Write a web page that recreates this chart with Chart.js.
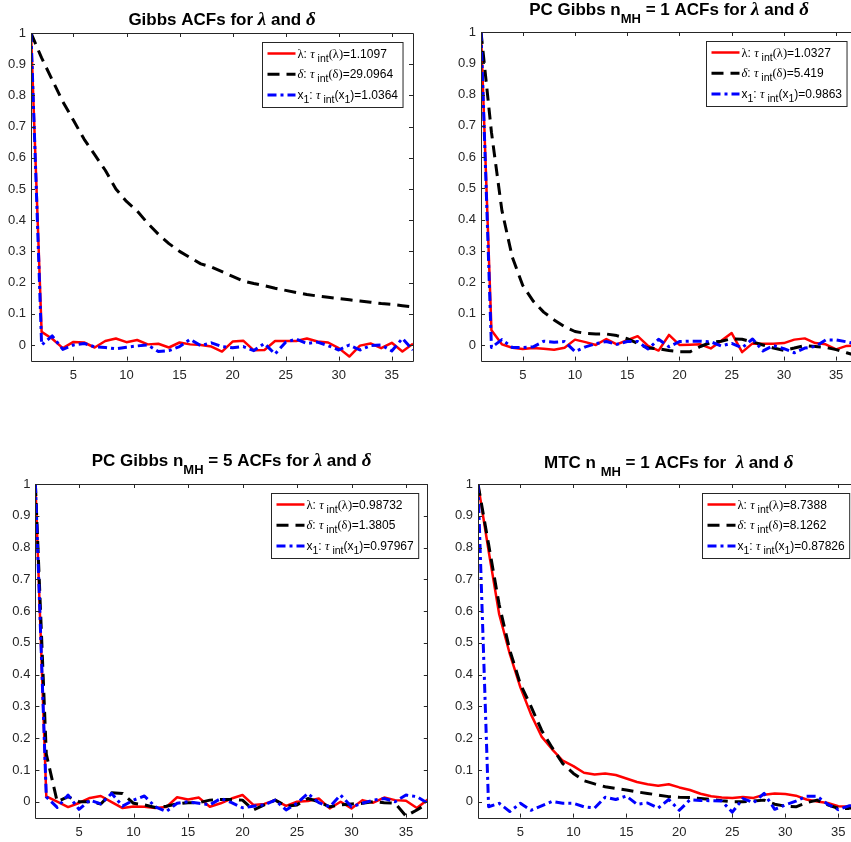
<!DOCTYPE html>
<html>
<head>
<meta charset="utf-8">
<script src="https://cdn.jsdelivr.net/npm/chart.js@4.4.0/dist/chart.umd.min.js"></script>
<style>
  html, body { margin: 0; padding: 0; background: #fff; overflow: hidden; width: 851px; height: 842px; }
  .panel { position: absolute; }
</style>
</head>
<body>
<div class="panel" style="left:0px;top:0px"><canvas id="gibbs" width="430" height="420"></canvas></div>
<div class="panel" style="left:430px;top:0px"><canvas id="pc1" width="440" height="420"></canvas></div>
<div class="panel" style="left:0px;top:420px"><canvas id="pc5" width="430" height="422"></canvas></div>
<div class="panel" style="left:430px;top:420px"><canvas id="mtc" width="440" height="422"></canvas></div>
<script>
// lags on the x axis
const lags = [1,2,3,4,5,6,7,8,9,10,11,12,13,14,15,16,17,18,19,20,21,22,23,24,25,26,27,28,29,30,31,32,33,34,35,36,37];
const xTicks = [5,10,15,20,25,30,35];
const xTickLabels = ['5','10','15','20','25','30','35'];
const yTicks = [0,0.1,0.2,0.3,0.4,0.5,0.6,0.7,0.8,0.9,1];
const yTickLabels = ['0','0.1','0.2','0.3','0.4','0.5','0.6','0.7','0.8','0.9','1'];

// Gibbs
const gibbsLambda = [1.0,0.042,0.02,-0.01,0.01,0.008,-0.008,0.013,0.021,0.009,0.016,0.002,0.004,-0.008,0.008,0.002,0.0,-0.005,-0.021,0.011,0.014,-0.017,-0.016,0.013,0.013,0.013,0.021,0.011,0.008,-0.01,-0.037,-0.002,0.005,-0.01,0.007,-0.021,0.004];
const gibbsDelta = [1.0,0.92,0.85,0.78,0.72,0.66,0.61,0.56,0.50,0.46,0.43,0.39,0.355,0.325,0.30,0.28,0.26,0.25,0.235,0.22,0.205,0.197,0.19,0.182,0.175,0.168,0.162,0.157,0.153,0.149,0.145,0.141,0.137,0.133,0.13,0.126,0.122];
const gibbsX1 = [1.0,0.0,0.029,-0.014,0.0,0.005,-0.006,-0.008,-0.012,-0.007,-0.003,0.0,-0.021,-0.018,-0.005,0.018,-0.002,0.007,-0.005,-0.009,-0.005,-0.018,0.005,-0.029,0.009,0.019,0.005,0.009,-0.002,-0.016,0.0,-0.016,-0.002,0.0,-0.019,0.021,-0.016];
const gibbsTau = ['1.1097','29.0964','1.0364'];

// PC Gibbs nMH = 1
const pc1Lambda = [1.0,0.047,0.002,-0.009,-0.013,-0.01,-0.012,-0.015,-0.009,0.017,0.009,0.0,0.019,0.002,0.015,0.028,-0.003,-0.018,0.032,0.0,0.001,0.002,-0.011,0.013,0.038,-0.023,0.005,0.004,0.004,0.006,0.017,0.021,0.006,0.002,-0.014,-0.003,-0.002];
const pc1Delta = [1.0,0.68,0.43,0.28,0.19,0.14,0.105,0.08,0.058,0.043,0.037,0.035,0.035,0.03,0.02,0.005,-0.01,-0.012,-0.018,-0.022,-0.022,-0.005,0.008,0.012,0.02,0.018,0.01,0.0,-0.01,-0.017,-0.01,-0.002,-0.005,-0.008,-0.015,-0.025,-0.035];
const pc1X1 = [1.0,-0.008,0.017,-0.008,-0.008,-0.006,0.012,0.009,0.011,-0.021,-0.006,0.004,0.011,0.002,0.011,0.011,-0.013,0.018,-0.006,0.011,0.012,0.012,0.01,-0.003,0.005,-0.009,0.019,-0.019,-0.002,-0.012,-0.025,-0.01,-0.005,0.016,0.016,0.01,0.003];
const pc1Tau = ['1.0327','5.419','0.9863'];

// PC Gibbs nMH = 5
const pc5Lambda = [1.0,0.017,0.0,-0.017,-0.004,0.012,0.018,-0.001,-0.02,-0.015,-0.016,-0.02,-0.017,0.014,0.007,0.013,-0.016,-0.005,0.01,0.021,-0.01,-0.007,0.005,-0.013,0.0,0.002,0.01,-0.021,0.0,-0.021,0.005,-0.003,0.013,0.005,0.003,-0.02,0.007];
const pc5Delta = [1.0,0.15,0.0,0.016,0.0,0.0,-0.007,0.028,0.026,-0.005,-0.01,-0.018,-0.014,-0.007,-0.003,-0.003,0.005,0.007,0.007,0.005,-0.026,-0.01,0.005,-0.014,-0.01,0.01,0.0,-0.016,-0.01,-0.007,-0.005,0.0,-0.003,-0.005,-0.045,-0.026,-0.005];
const pc5X1 = [1.0,0.015,-0.018,0.021,-0.024,0.005,-0.007,0.026,-0.014,0.005,0.018,-0.016,-0.031,-0.005,0.0,-0.005,-0.01,0.01,-0.003,-0.019,-0.014,-0.01,0.005,-0.026,-0.005,0.026,-0.003,-0.016,0.021,-0.016,-0.005,0.005,0.01,0.0,0.021,0.016,-0.005];
const pc5Tau = ['0.98732','1.3805','0.97967'];

// MTC nMH = 1
const mtcLambda = [1.0,0.79,0.59,0.465,0.36,0.275,0.205,0.165,0.129,0.112,0.091,0.086,0.089,0.084,0.073,0.062,0.055,0.05,0.055,0.045,0.037,0.025,0.017,0.013,0.012,0.015,0.012,0.022,0.026,0.024,0.019,0.007,0.001,-0.004,-0.014,-0.015,-0.01];
const mtcDelta = [1.0,0.81,0.62,0.477,0.37,0.30,0.225,0.17,0.12,0.089,0.066,0.056,0.047,0.042,0.037,0.031,0.026,0.021,0.016,0.014,0.013,0.01,0.007,0.003,0.0,0.0,0.002,0.005,-0.008,-0.014,-0.016,-0.003,0.005,-0.01,-0.021,-0.021,-0.016];
const mtcX1 = [1.0,-0.016,-0.005,-0.031,-0.005,-0.027,-0.013,0.001,-0.005,-0.005,-0.016,-0.02,0.014,0.007,0.018,-0.008,-0.004,-0.02,0.007,-0.027,0.006,0.004,0.003,0.002,-0.033,0.01,-0.003,0.026,-0.024,-0.01,0.002,0.017,0.017,-0.008,-0.025,-0.013,-0.013];
const mtcTau = ['8.7388','8.1262','0.87826'];

const SANS = '"Liberation Sans", Arial, Helvetica, sans-serif';
const SERIF = '"Liberation Serif", "Times New Roman", serif';
const AXIS_COLOR = '#262626';

// title fonts
const tBold = 'bold 17px ' + SANS;
const tGreek = 'bold italic 19px ' + SERIF;
const tSub = 'bold 13px ' + SANS;
// legend fonts
const lText = '12px ' + SANS;
const lGreek = '12.5px ' + SERIF;
const lGreekIt = 'italic 12.5px ' + SERIF;
const lSub = '10.5px ' + SANS;

function toPoints(vals) {
    return lags.map((l, i) => ({ x: l, y: vals[i] }));
}

// draws text made of several pieces with their own fonts / offsets
function drawRich(ctx, parts, x, y, align) {
    let w = measureRich(ctx, parts);
    let cx = align === 'center' ? x - w / 2 : x;
    parts.forEach(p => {
        ctx.font = p[1];
        ctx.fillText(p[0], cx, y + (p[2] || 0));
        cx += ctx.measureText(p[0]).width;
    });
    return w;
}

function measureRich(ctx, parts) {
    let w = 0;
    parts.forEach(p => { ctx.font = p[1]; w += ctx.measureText(p[0]).width; });
    return w;
}

function legendRows(tau) {
    return [
        [['λ', lGreek], [': ', lText], ['τ', lGreekIt], [' int', lSub, 4], ['(λ)', lGreek], ['=' + tau[0], lText]],
        [['δ', lGreekIt], [': ', lText], ['τ', lGreekIt], [' int', lSub, 4], ['(δ)', lGreek], ['=' + tau[1], lText]],
        [['x', lText], ['1', lSub, 4], [': ', lText], ['τ', lGreekIt], [' int', lSub, 4], ['(x', lText], ['1', lSub, 4], [')=' + tau[2], lText]]
    ];
}

// MATLAB-like box, inner ticks, title and legend
const matlabAxes = {
    id: 'matlabAxes',
    afterDraw(chart, args, opts) {
        const ctx = chart.ctx;
        const a = chart.chartArea;
        const xs = chart.scales.x, ys = chart.scales.y;
        ctx.save();
        ctx.strokeStyle = AXIS_COLOR;
        ctx.lineWidth = 1;
        ctx.beginPath();
        ctx.rect(Math.round(a.left) + 0.5, Math.round(a.top) + 0.5, Math.round(a.right - a.left), Math.round(a.bottom - a.top));
        xTicks.forEach(v => {
            const px = Math.round(xs.getPixelForValue(v)) + 0.5;
            ctx.moveTo(px, a.bottom); ctx.lineTo(px, a.bottom - 4);
            ctx.moveTo(px, a.top); ctx.lineTo(px, a.top + 4);
        });
        yTicks.forEach(v => {
            const py = Math.round(ys.getPixelForValue(v)) + 0.5;
            ctx.moveTo(a.left, py); ctx.lineTo(a.left + 4, py);
            ctx.moveTo(a.right, py); ctx.lineTo(a.right - 4, py);
        });
        ctx.stroke();

        // title
        ctx.fillStyle = '#000';
        ctx.textBaseline = 'alphabetic';
        drawRich(ctx, opts.title, (a.left + a.right) / 2, opts.titleY, 'center');

        // legend
        const rows = legendRows(opts.tau);
        const textW = Math.max(...rows.map(r => measureRich(ctx, r)));
        const boxW = 36 + textW + 4;
        const boxH = 65;
        const bx = Math.round(a.right - 10 - boxW) + 0.5;
        const by = Math.round(a.top + 9) + 0.5;
        ctx.fillStyle = '#fff';
        ctx.fillRect(bx, by, boxW, boxH);
        ctx.strokeStyle = AXIS_COLOR;
        ctx.strokeRect(bx, by, boxW, boxH);
        const ds = chart.data.datasets;
        rows.forEach((r, i) => {
            const cy = by + 11 + i * 20.7;
            ctx.beginPath();
            ctx.strokeStyle = ds[i].borderColor;
            ctx.lineWidth = ds[i].borderWidth;
            ctx.setLineDash(ds[i].borderDash || []);
            ctx.moveTo(bx + 5, cy); ctx.lineTo(bx + 33, cy);
            ctx.stroke();
            ctx.setLineDash([]);
            ctx.fillStyle = '#000';
            drawRich(ctx, r, bx + 35, cy + 4, 'left');
        });
        ctx.restore();
    }
};

function makeChart(id, area, title, titleY, lambda, delta, x1, tau) {
    const canvas = document.getElementById(id);
    const ctx = canvas.getContext('2d');
    return new Chart(ctx, {
        type: 'line',
        data: {
            datasets: [
                { data: toPoints(lambda), borderColor: '#ff0000', borderWidth: 2.5, order: 3 },
                { data: toPoints(delta), borderColor: '#000000', borderWidth: 3, borderDash: [12, 7], order: 2 },
                { data: toPoints(x1), borderColor: '#0000ff', borderWidth: 3, borderDash: [9, 4, 3, 4], order: 1 }
            ]
        },
        options: {
            responsive: false,
            animation: false,
            devicePixelRatio: 1,
            layout: {
                autoPadding: false,
                padding: { top: area.t, left: 0, right: canvas.width - area.r, bottom: 0 }
            },
            elements: {
                point: { radius: 0 },
                line: { tension: 0, fill: false, borderJoinStyle: 'round' }
            },
            plugins: {
                legend: { display: false },
                title: { display: false },
                tooltip: { enabled: false },
                matlabAxes: { title: title, titleY: titleY, tau: tau }
            },
            scales: {
                x: {
                    type: 'linear',
                    min: 1,
                    max: 37,
                    afterBuildTicks: s => { s.ticks = xTicks.map(v => ({ value: v })); },
                    afterFit: s => { s.height = canvas.height - area.b; },
                    grid: { display: false, drawTicks: false },
                    border: { display: false },
                    ticks: {
                        color: AXIS_COLOR,
                        font: { family: SANS, size: 13 },
                        padding: 7,
                        maxRotation: 0,
                        autoSkip: false,
                        callback: (v, i) => xTickLabels[i]
                    }
                },
                y: {
                    type: 'linear',
                    min: -0.05,
                    max: 1,
                    afterBuildTicks: s => { s.ticks = yTicks.map(v => ({ value: v })); },
                    afterFit: s => { s.width = area.l; },
                    grid: { display: false, drawTicks: false },
                    border: { display: false },
                    ticks: {
                        color: AXIS_COLOR,
                        font: { family: SANS, size: 13 },
                        padding: 5,
                        autoSkip: false,
                        callback: (v, i) => yTickLabels[i]
                    }
                }
            }
        },
        plugins: [matlabAxes]
    });
}

const titleEnd = [[' and ', tBold], ['δ', tGreek]];

makeChart('gibbs', { l: 31, t: 33, r: 413, b: 360.6 },
    [['Gibbs ACFs for ', tBold], ['λ', tGreek], ...titleEnd], 25,
    gibbsLambda, gibbsDelta, gibbsX1, gibbsTau);

makeChart('pc1', { l: 51, t: 32, r: 427, b: 360.6 },
    [['PC Gibbs n', tBold], ['MH', tSub, 8], [' = 1 ACFs for ', tBold], ['λ', tGreek], ...titleEnd], 15,
    pc1Lambda, pc1Delta, pc1X1, pc1Tau);

makeChart('pc5', { l: 35.4, t: 64, r: 427.8, b: 397.6 },
    [['PC Gibbs n', tBold], ['MH', tSub, 8], [' = 5 ACFs for ', tBold], ['λ', tGreek], ...titleEnd], 46,
    pc5Lambda, pc5Delta, pc5X1, pc5Tau);

makeChart('mtc', { l: 48, t: 64, r: 429.5, b: 397.6 },
    [['MTC n ', tBold], ['MH', tSub, 8], [' = 1 ACFs for  ', tBold], ['λ', tGreek], ...titleEnd], 48,
    mtcLambda, mtcDelta, mtcX1, mtcTau);
</script>
</body>
</html>
